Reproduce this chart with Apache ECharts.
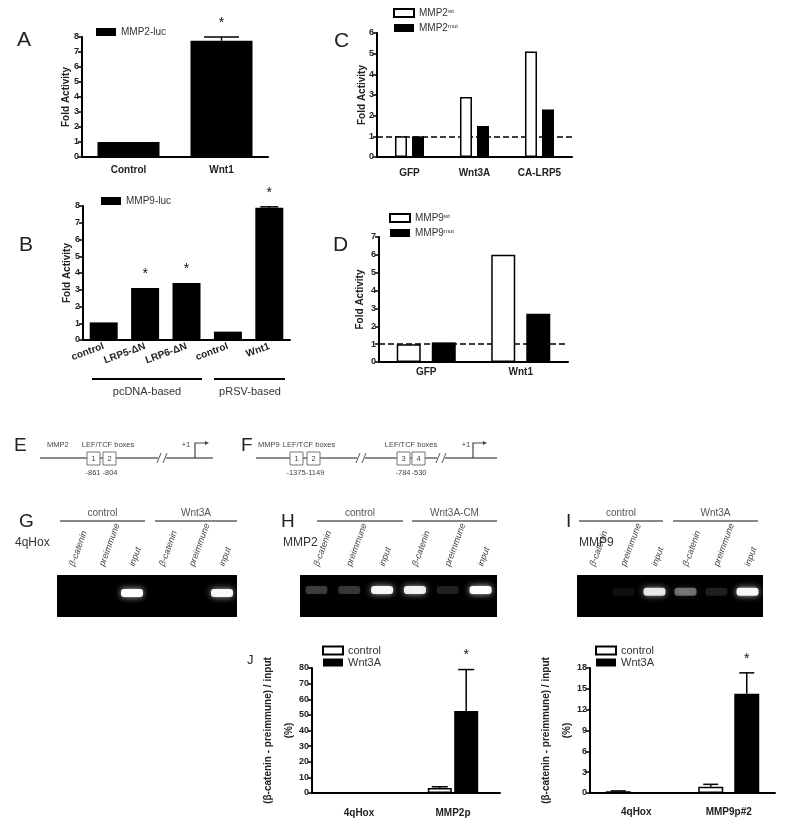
<!DOCTYPE html>
<html>
<head>
<meta charset="utf-8">
<script src="https://cdn.jsdelivr.net/npm/echarts@6.0.0/dist/echarts.min.js"></script>
<style>html,body{margin:0;background:#fff}#main{width:800px;height:833px}</style>
</head>
<body>
<div id="main"></div>
<script>
// A: MMP2-luc
var catsA = ['Control', 'Wnt1'];
var valsA = [1.0, 7.75];
var errA = [0, 0.25];
var starA = ['', '*'];
// B: MMP9-luc
var catsB = ['control', 'LRP5-ΔN', 'LRP6-ΔN', 'control', 'Wnt1'];
var valsB = [1.05, 3.1, 3.4, 0.5, 7.9];
var errB = [0, 0, 0, 0, 0.05];
var starB = ['', '*', '*', '', '*'];
// C: MMP2 wt / mut
var catsC = ['GFP', 'Wnt3A', 'CA-LRP5'];
var wtC = [1.0, 2.9, 5.1];
var mutC = [1.0, 1.5, 2.3];
// D: MMP9 wt / mut
var catsD = ['GFP', 'Wnt1'];
var wtD = [1.0, 6.0];
var mutD = [1.1, 2.7];
// J left
var catsJ1 = ['4qHox', 'MMP2p'];
var ctrlJ1 = [0.3, 3.2];
var ctrlErrJ1 = [0, 0.8];
var wntJ1 = [0.15, 52.5];
var wntErrJ1 = [0, 26.5];
var wntStarJ1 = ['', '*'];
// J right
var catsJ2 = ['4qHox', 'MMP9p#2'];
var ctrlJ2 = [0.25, 0.9];
var ctrlErrJ2 = [0.05, 0.35];
var wntJ2 = [0.05, 14.3];
var wntErrJ2 = [0, 3.0];
var wntStarJ2 = ['', '*'];
// gels (band brightness per lane)
var lanes = ['β-catenin', 'preimmune', 'input', 'β-catenin', 'preimmune', 'input'];
var gelG = [0, 0, 1, 0, 0, 0.95];
var gelH = [0.22, 0.2, 0.95, 0.9, 0.12, 1];
var gelI = [0, 0.06, 0.85, 0.4, 0.12, 0.95];

var FONT = 'Liberation Sans';
var chart = echarts.init(document.getElementById('main'));

function catAxis(gi, cats, margin, rotate) {
    return {
        type: 'category', gridIndex: gi, data: cats,
        axisLine: {lineStyle: {color: '#000', width: 2}},
        axisTick: {alignWithLabel: true, length: 4, lineStyle: {color: '#000', width: 1.5}},
        axisLabel: {interval: 0, fontSize: 10, fontWeight: 'bold', color: '#222', margin: margin, rotate: rotate || 0}
    };
}
function valAxis(gi, max, step, name, gap) {
    return {
        type: 'value', gridIndex: gi, min: 0, max: max, interval: step,
        name: name, nameLocation: 'middle', nameGap: gap, nameMoveOverlap: false,
        nameTextStyle: {fontSize: 10, fontWeight: 'bold', color: '#222', lineHeight: 21},
        axisLine: {show: true, lineStyle: {color: '#000', width: 2}},
        axisTick: {show: true, length: 4, lineStyle: {color: '#000', width: 1.5}},
        axisLabel: {fontSize: 9, fontWeight: 'bold', color: '#222', margin: 3},
        splitLine: {show: false}
    };
}
function gelAxis(gi) {
    return {
        type: 'category', gridIndex: gi, data: lanes, position: 'top',
        axisLine: {show: false}, axisTick: {show: false},
        axisLabel: {interval: 0, rotate: 70, margin: 9, fontSize: 9, fontStyle: 'italic', color: '#444'}
    };
}
var black = {color: '#000'};
var white = {color: '#fff', borderColor: '#000', borderWidth: 1.5};

function errSeries(xi, means, errs, stars, shift, capW) {
    return {
        type: 'custom', xAxisIndex: xi, yAxisIndex: xi, clip: false, silent: true, z: 5,
        data: means.map(function (m, i) { return [i, m, errs[i]]; }),
        renderItem: function (params, api) {
            var i = api.value(0), m = api.value(1), e = api.value(2);
            var p0 = api.coord([i, m]);
            var p1 = api.coord([i, m + e]);
            var x = p0[0] + shift;
            var kids = [];
            if (e > 0) {
                kids.push({type: 'line', shape: {x1: x, y1: p0[1], x2: x, y2: p1[1]}, style: {stroke: '#000', lineWidth: 1.5}});
                kids.push({type: 'line', shape: {x1: x - capW / 2, y1: p1[1], x2: x + capW / 2, y2: p1[1]}, style: {stroke: '#000', lineWidth: 1.5}});
            }
            if (stars[params.dataIndex]) {
                kids.push({type: 'text', style: {text: stars[params.dataIndex], x: x, y: p1[1] - 7,
                    textAlign: 'center', align: 'center', textVerticalAlign: 'bottom', verticalAlign: 'bottom',
                    font: '14px ' + FONT, fill: '#111'}});
            }
            return {type: 'group', children: kids};
        }
    };
}
function gelSeries(xi, vals, yFrac) {
    return {
        type: 'custom', xAxisIndex: xi, yAxisIndex: xi, silent: true,
        data: vals.map(function (v, i) { return [i, v]; }),
        renderItem: function (params, api) {
            var a = api.value(1);
            if (a <= 0) return null;
            var c = api.coord([api.value(0), 0]);
            var cs = params.coordSys;
            var y = cs.y + cs.height * yFrac;
            return {type: 'rect', shape: {x: c[0] - 11, y: y - 4, width: 22, height: 8, r: 3},
                style: {fill: 'rgba(255,255,255,' + a + ')', shadowBlur: 6, shadowColor: 'rgba(255,255,255,' + (a * 0.8) + ')'}};
        }
    };
}
function mkLegend(names, x, y, fs, gap) {
    return {
        data: names, left: x, top: y, orient: 'vertical', icon: 'rect', itemWidth: 20, itemHeight: 8,
        itemGap: gap, padding: 0, selectedMode: false,
        textStyle: {fontSize: fs, color: '#333',
            rich: {b: {fontSize: fs, color: '#333'}, s: {fontSize: 6, color: '#333', verticalAlign: 'top'}}},
        formatter: function (n) {
            var m = n.match(/^(MMP\d)(wt|mut)$/);
            return m ? '{b|' + m[1] + '}{s|' + m[2] + '}' : n;
        }
    };
}
function dashAt1() {
    return {silent: true, symbol: 'none', z: 1, label: {show: false},
        lineStyle: {type: 'dashed', color: '#000', width: 1.5}, data: [{yAxis: 1}]};
}

// annotation helpers
function txt(x, y, s, o) {
    return {type: 'text', silent: true, style: Object.assign({text: s, x: x, y: y, fill: '#333', font: '10px ' + FONT,
        textAlign: 'left', align: 'left', textVerticalAlign: 'middle', verticalAlign: 'middle'}, o || {})};
}
function ctxt(x, y, s, o) { return txt(x, y, s, Object.assign({textAlign: 'center', align: 'center'}, o || {})); }
function ln(x1, y1, x2, y2, c, w) {
    return {type: 'line', silent: true, shape: {x1: x1, y1: y1, x2: x2, y2: y2}, style: {stroke: c || '#000', lineWidth: w || 1.5}};
}
function letter(x, y, s, fs) { return txt(x, y, s, {font: (fs || 21) + 'px ' + FONT, fill: '#222', textVerticalAlign: 'top', verticalAlign: 'top'}); }
var small = {font: '7.5px ' + FONT, fill: '#444'};
function lefBox(x, n) {
    return [{type: 'rect', silent: true, shape: {x: x, y: 452, width: 13, height: 13}, style: {fill: '#fff', stroke: '#777', lineWidth: 1}},
        ctxt(x + 6.5, 458.5, n, small)];
}
function brk(x) {
    return [{type: 'rect', silent: true, shape: {x: x - 4, y: 455, width: 8, height: 6}, style: {fill: '#fff'}},
        ln(x - 5, 463, x - 1, 453, '#555', 1), ln(x + 1, 463, x + 5, 453, '#555', 1)];
}
function arrow(x, x2) {
    return [{type: 'polyline', silent: true, shape: {points: [[x, 458], [x, 443], [x2, 443]]}, style: {stroke: '#444', lineWidth: 1.2, fill: null}},
        {type: 'polygon', silent: true, shape: {points: [[x2, 441], [x2 + 4, 443], [x2, 445]]}, style: {fill: '#444'}}];
}
function header(x1, x2, s) { return [ctxt((x1 + x2) / 2, 513, s, {fill: '#555', font: '10px ' + FONT}), ln(x1, 521, x2, 521, '#888', 2)]; }

var gfx = [
    letter(17, 30, 'A'), letter(19, 235, 'B'), letter(334, 31, 'C'), letter(333, 235, 'D'),
    letter(14, 436, 'E', 19), letter(241, 436, 'F', 19), letter(19, 512, 'G', 19), letter(281, 512, 'H', 19), letter(566, 512, 'I', 19),
    letter(247, 654, 'J', 13),
    ln(92, 379, 202, 379, '#000', 2), ln(214, 379, 285, 379, '#000', 2),
    ctxt(147, 392, 'pcDNA-based', {font: '11px ' + FONT}), ctxt(250, 392, 'pRSV-based', {font: '11px ' + FONT}),
    // E
    ln(40, 458, 213, 458, '#666', 1.5),
    txt(47, 445, 'MMP2', small), ctxt(108, 445, 'LEF/TCF boxes', small), ctxt(186, 445, '+1', small),
    ctxt(93, 473, '-861', small), ctxt(110, 473, '-804', small),
    // F
    ln(256, 458, 497, 458, '#666', 1.5),
    txt(258, 445, 'MMP9', small), ctxt(309, 445, 'LEF/TCF boxes', small), ctxt(411, 445, 'LEF/TCF boxes', small), ctxt(466, 445, '+1', small),
    ctxt(296, 473, '-1375', small), ctxt(315, 473, '-1149', small), ctxt(403, 473, '-784', small), ctxt(419, 473, '-530', small),
    // gel side labels
    txt(15, 543, '4qHox', {font: '12px ' + FONT}), txt(283, 543, 'MMP2', {font: '12px ' + FONT}), txt(579, 543, 'MMP9', {font: '12px ' + FONT})
];
gfx = gfx.concat(lefBox(87, '1'), lefBox(103, '2'), brk(162), arrow(195, 205),
    lefBox(290, '1'), lefBox(307, '2'), lefBox(397, '3'), lefBox(412, '4'), brk(361), brk(441), arrow(473, 483),
    header(60, 145, 'control'), header(155, 237, 'Wnt3A'),
    header(317, 403, 'control'), header(412, 497, 'Wnt3A-CM'),
    header(579, 663, 'control'), header(673, 758, 'Wnt3A'));

var gelGrid = {show: true, backgroundColor: '#000', borderWidth: 0};
var jName = '(β-catenin - preimmune) / input\n(%)';

var option = {
    animation: false,
    backgroundColor: '#fff',
    textStyle: {fontFamily: FONT},
    grid: [
        {left: 82, top: 37, width: 186, height: 120},
        {left: 83, top: 206, width: 207, height: 134},
        {left: 377, top: 33, width: 195, height: 124},
        {left: 379, top: 237, width: 189, height: 125},
        {left: 312, top: 668, width: 188, height: 125},
        {left: 590, top: 668, width: 185, height: 125},
        Object.assign({left: 57, top: 575, width: 180, height: 42}, gelGrid),
        Object.assign({left: 300, top: 575, width: 197, height: 42}, gelGrid),
        Object.assign({left: 577, top: 575, width: 186, height: 42}, gelGrid)
    ],
    xAxis: [
        catAxis(0, catsA, 8), catAxis(1, catsB, 6, 20), catAxis(2, catsC, 11), catAxis(3, catsD, 5),
        catAxis(4, catsJ1, 15), catAxis(5, catsJ2, 14),
        gelAxis(6), gelAxis(7), gelAxis(8)
    ],
    yAxis: [
        valAxis(0, 8, 1, 'Fold Activity', 5), valAxis(1, 8, 1, 'Fold Activity', 5),
        valAxis(2, 6, 1, 'Fold Activity', 4), valAxis(3, 7, 1, 'Fold Activity', 8),
        valAxis(4, 80, 10, jName, 12), valAxis(5, 18, 3, jName, 12),
        {type: 'value', gridIndex: 6, min: 0, max: 1, show: false},
        {type: 'value', gridIndex: 7, min: 0, max: 1, show: false},
        {type: 'value', gridIndex: 8, min: 0, max: 1, show: false}
    ],
    legend: [
        mkLegend(['MMP2-luc'], 96, 27, 10, 5),
        mkLegend(['MMP9-luc'], 101, 196, 10, 5),
        mkLegend(['MMP2wt', 'MMP2mut'], 393, 8, 10, 5),
        mkLegend(['MMP9wt', 'MMP9mut'], 389, 213, 10, 5),
        mkLegend(['control', 'Wnt3A'], 322, 645, 11, 1),
        mkLegend(['control', 'Wnt3A'], 595, 645, 11, 1)
    ],
    series: [
        {name: 'MMP2-luc', type: 'bar', xAxisIndex: 0, yAxisIndex: 0, barWidth: 62, data: valsA, itemStyle: black},
        errSeries(0, valsA, errA, starA, 0, 35),
        {name: 'MMP9-luc', type: 'bar', xAxisIndex: 1, yAxisIndex: 1, barWidth: 28, data: valsB, itemStyle: black},
        errSeries(1, valsB, errB, starB, 0, 18),
        {name: 'MMP2wt', type: 'bar', xAxisIndex: 2, yAxisIndex: 2, barWidth: 12, barGap: '42%', data: wtC, itemStyle: white, markLine: dashAt1()},
        {name: 'MMP2mut', type: 'bar', xAxisIndex: 2, yAxisIndex: 2, barWidth: 12, barGap: '42%', data: mutC, itemStyle: black},
        {name: 'MMP9wt', type: 'bar', xAxisIndex: 3, yAxisIndex: 3, barWidth: 24, barGap: '46%', data: wtD, itemStyle: white, markLine: dashAt1()},
        {name: 'MMP9mut', type: 'bar', xAxisIndex: 3, yAxisIndex: 3, barWidth: 24, barGap: '46%', data: mutD, itemStyle: black},
        {name: 'control', type: 'bar', xAxisIndex: 4, yAxisIndex: 4, barWidth: 24, barGap: '10%', data: ctrlJ1, itemStyle: white},
        {name: 'Wnt3A', type: 'bar', xAxisIndex: 4, yAxisIndex: 4, barWidth: 24, barGap: '10%', data: wntJ1, itemStyle: black},
        errSeries(4, ctrlJ1, ctrlErrJ1, ['', ''], -13.2, 16),
        errSeries(4, wntJ1, wntErrJ1, wntStarJ1, 13.2, 16),
        {name: 'control', type: 'bar', xAxisIndex: 5, yAxisIndex: 5, barWidth: 25, barGap: '44%', data: ctrlJ2, itemStyle: white},
        {name: 'Wnt3A', type: 'bar', xAxisIndex: 5, yAxisIndex: 5, barWidth: 25, barGap: '44%', data: wntJ2, itemStyle: black},
        errSeries(5, ctrlJ2, ctrlErrJ2, ['', ''], -18, 15),
        errSeries(5, wntJ2, wntErrJ2, wntStarJ2, 18, 15),
        gelSeries(6, gelG, 0.43),
        gelSeries(7, gelH, 0.36),
        gelSeries(8, gelI, 0.4)
    ],
    graphic: {elements: gfx}
};
chart.setOption(option);
</script>
</body>
</html>
